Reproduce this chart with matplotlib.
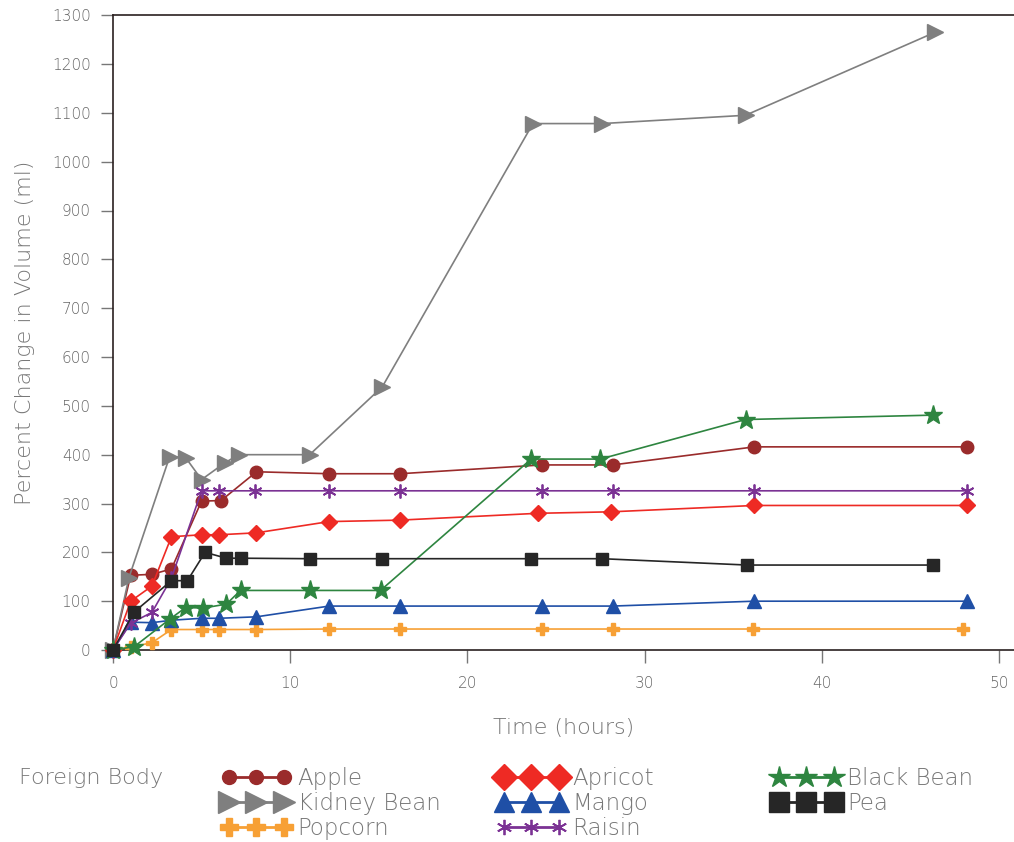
import matplotlib.pyplot as plt
from matplotlib.lines import Line2D

plt.rcParams['font.family'] = ['DejaVu Sans']
plt.rcParams['font.weight'] = 'light'
plt.rcParams['axes.labelweight'] = 'light'

# time (hours) and percent change for each foreign body
apple_t = [0, 1.0, 2.2, 3.3, 5.0, 6.1, 8.1, 12.2, 16.2, 24.2, 28.2, 36.2, 48.2]
apple_v = [0, 153, 155, 166, 305, 306, 365, 361, 361, 379, 379, 416, 416]

kidney_t = [0, 0.9, 3.2, 4.1, 5.0, 6.3, 7.1, 11.1, 15.2, 23.7, 27.6, 35.7, 46.4]
kidney_v = [0, 148, 396, 394, 349, 383, 400, 400, 539, 1078, 1078, 1095, 1265]

popcorn_t = [0, 1.0, 2.2, 3.3, 5.0, 6.0, 8.1, 12.2, 16.2, 24.2, 28.2, 36.1, 48.0]
popcorn_v = [0, 6, 15, 42, 42, 42, 42, 43, 43, 43, 43, 43, 43]

apricot_t = [0, 1.0, 2.2, 3.3, 5.0, 6.0, 8.1, 12.2, 16.2, 24.0, 28.1, 36.2, 48.2]
apricot_v = [0, 100, 131, 232, 236, 236, 240, 263, 266, 280, 283, 296, 296]

mango_t = [0, 1.0, 2.2, 3.3, 5.0, 6.0, 8.1, 12.2, 16.2, 24.2, 28.2, 36.2, 48.2]
mango_v = [0, 57, 56, 61, 65, 65, 68, 90, 90, 90, 90, 100, 100]

raisin_t = [0, 1.0, 2.2, 3.3, 5.0, 6.0, 8.0, 12.2, 16.2, 24.2, 28.2, 36.2, 48.2]
raisin_v = [0, 55, 77, 147, 326, 326, 326, 326, 326, 326, 326, 326, 326]

blackbean_t = [0, 1.2, 3.2, 4.1, 5.1, 6.4, 7.2, 11.1, 15.1, 23.6, 27.5, 35.7, 46.3]
blackbean_v = [0, 7, 63, 87, 86, 94, 122, 122, 122, 391, 391, 472, 481]

pea_t = [0, 1.2, 3.3, 4.2, 5.2, 6.4, 7.2, 11.1, 15.2, 23.6, 27.6, 35.8, 46.3]
pea_v = [0, 78, 142, 142, 200, 188, 188, 187, 187, 187, 187, 174, 174]

# name, t, v, colour, marker, size in plot, size in legend, edge width
series = [
    ("Apple", apple_t, apple_v, "#9a2b2b", "o", 9, 10, 1.0),
    ("Kidney Bean", kidney_t, kidney_v, "#7f7f7f", ">", 11, 16, 1.0),
    ("Popcorn", popcorn_t, popcorn_v, "#f7a035", "P", 9, 13, 1.0),
    ("Apricot", apricot_t, apricot_v, "#ee2a24", "D", 8, 13, 1.0),
    ("Mango", mango_t, mango_v, "#1f4fa6", "^", 10, 15, 1.0),
    ("Raisin", raisin_t, raisin_v, "#7b3294", (6, 2, 0), 10, 11, 1.3),
    ("Black Bean", blackbean_t, blackbean_v, "#2e8540", "*", 14, 16, 1.0),
    ("Pea", pea_t, pea_v, "#262626", "s", 9, 14, 1.0),
]

fig = plt.figure(figsize=(10.14, 8.42), dpi=100)
ax = fig.add_axes([0.1114, 0.228, 0.8886, 0.754])

leg_handles = {}
for name, t, v, c, m, ms, lms, mew in series:
    ax.plot(t, v, color=c, marker=m, markersize=ms, markeredgewidth=mew,
            markeredgecolor=c, linewidth=1.2, clip_on=False, zorder=3)
    leg_handles[name] = Line2D([], [], color=c, marker=m, markersize=lms,
                               markeredgewidth=mew, markeredgecolor=c, linewidth=2.0)

ax.set_xlim(0, 50.85)
ax.set_ylim(0, 1300)
ax.set_xticks(range(0, 51, 10))
ax.set_yticks(range(0, 1301, 100))
ax.spines['right'].set_visible(False)
for s in ['left', 'top', 'bottom']:
    ax.spines[s].set_color('#2a2020')
    ax.spines[s].set_linewidth(1.2)
ax.tick_params(axis='both', colors='#777777', labelcolor='#666666', labelsize=11,
               length=9, width=1.0, direction='out')
ax.tick_params(axis='x', pad=10)
ax.tick_params(axis='y', pad=7)

ax.set_xlabel("Time (hours)", fontsize=16, color='#777777', labelpad=19)
ax.set_ylabel("Percent Change in Volume (ml)", fontsize=16, color='#777777', labelpad=12)

fig.text(0.019, 0.076, "Foreign Body", fontsize=16, color='#777777', va='center')

columns = [
    (["Apple", "Kidney Bean", "Popcorn"], 0.219),
    (["Apricot", "Mango", "Raisin"], 0.490),
    (["Black Bean", "Pea"], 0.761),
]
for names, xpos in columns:
    hs = [leg_handles[n] for n in names]
    leg = fig.legend(hs, names, loc='upper left', bbox_to_anchor=(xpos, 0.089),
                     frameon=False, numpoints=3, fontsize=16.5, handlelength=3.0,
                     handletextpad=0.3, labelspacing=0.08, borderpad=0,
                     borderaxespad=0)
    for txt in leg.get_texts():
        txt.set_color('#777777')

fig.savefig("out.png", dpi=100)
